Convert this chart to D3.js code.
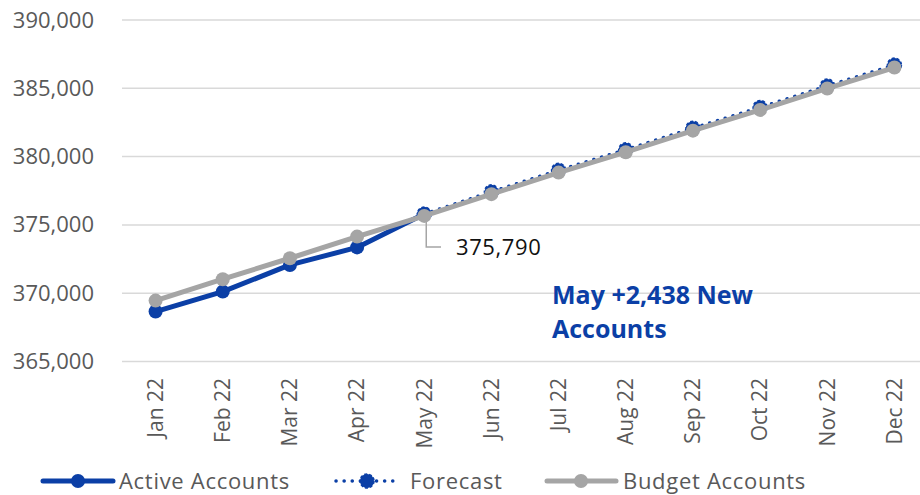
<!DOCTYPE html>
<html>
<head>
<meta charset="utf-8">
<script src="https://cdn.jsdelivr.net/npm/d3@7"></script>
<style>
  body { margin: 0; background: #fff; }
  svg { display: block; font-family: "Open Sans", sans-serif; }
</style>
</head>
<body>
<div id="chart"></div>
<script>
// data
const months = ["Jan 22", "Feb 22", "Mar 22", "Apr 22", "May 22", "Jun 22",
                "Jul 22", "Aug 22", "Sep 22", "Oct 22", "Nov 22", "Dec 22"];
const activeAccounts = [368655, 370117, 372069, 373352, 375790];
const forecastMonths = months.slice(4);
const forecast = [375790, 377420, 379000, 380500, 382080, 383600, 385170, 386700];
const budgetAccounts = [369459, 371023, 372559, 374144, 375660, 377250,
                        378830, 380320, 381900, 383420, 384990, 386520];
const yTicks = [365000, 370000, 375000, 380000, 385000, 390000];

const W = 920, H = 495;
const BLUE = "#0B3FA6", GRAY = "#A5A5A5";

const svg = d3.select("#chart").append("svg")
    .attr("width", W).attr("height", H);

const x = d3.scaleBand().domain(months).range([122, 928]);
const y = d3.scaleLinear().domain([365000, 390000]).range([361.5, 20]);
const cx = m => x(m) + x.bandwidth() / 2;

// gridlines
svg.append("g").selectAll("line").data(yTicks).join("line")
    .attr("x1", 122).attr("x2", W)
    .attr("y1", d => y(d)).attr("y2", d => y(d))
    .attr("stroke", "#D9D9D9").attr("stroke-width", 1.5);

// y axis
const yAxis = svg.append("g")
    .attr("transform", "translate(94,0)")
    .call(d3.axisLeft(y).tickValues(yTicks).tickSize(0).tickPadding(0)
        .tickFormat(d3.format(",")));
yAxis.select(".domain").remove();
yAxis.selectAll("text")
    .attr("font-family", "Open Sans").attr("font-size", 22)
    .attr("fill", "#595959");

// x axis
const xAxis = svg.append("g")
    .attr("transform", "translate(0,374)")
    .call(d3.axisBottom(x).tickSize(0).tickPadding(0));
xAxis.select(".domain").remove();
xAxis.selectAll("text")
    .attr("font-family", "Open Sans").attr("font-size", 21)
    .attr("fill", "#595959")
    .attr("transform", "rotate(-90)")
    .attr("text-anchor", "end")
    .attr("x", -4).attr("y", 0).attr("dy", "0.35em");

const line = d3.line().x(d => cx(d[0])).y(d => y(d[1]));

// active accounts
const act = months.slice(0, 5).map((m, i) => [m, activeAccounts[i]]);
svg.append("path").datum(act).attr("d", line)
    .attr("fill", "none").attr("stroke", BLUE).attr("stroke-width", 5)
    .attr("stroke-linejoin", "round");
svg.append("g").selectAll("circle").data(act).join("circle")
    .attr("cx", d => cx(d[0])).attr("cy", d => y(d[1])).attr("r", 7)
    .attr("fill", BLUE);

// forecast
const fc = forecastMonths.map((m, i) => [m, forecast[i]]);
svg.append("path").datum(fc).attr("d", line)
    .attr("fill", "none").attr("stroke", BLUE).attr("stroke-width", 3.5)
    .attr("stroke-dasharray", "0.1 8").attr("stroke-linecap", "round");
svg.append("g").selectAll("circle").data(fc).join("circle")
    .attr("cx", d => cx(d[0])).attr("cy", d => y(d[1])).attr("r", 7)
    .attr("fill", BLUE).attr("stroke", BLUE).attr("stroke-width", 1.5)
    .attr("stroke-dasharray", "3 2");

// budget accounts
const bud = months.map((m, i) => [m, budgetAccounts[i]]);
svg.append("path").datum(bud).attr("d", line)
    .attr("fill", "none").attr("stroke", GRAY).attr("stroke-width", 5)
    .attr("stroke-linejoin", "round");
svg.append("g").selectAll("circle").data(bud).join("circle")
    .attr("cx", d => cx(d[0])).attr("cy", d => y(d[1])).attr("r", 7)
    .attr("fill", GRAY);

// data label for May
const mx = cx("May 22"), my = y(activeAccounts[4]);
svg.append("path")
    .attr("d", `M${mx + 2},${my + 6}V247H441`)
    .attr("fill", "none").attr("stroke", GRAY).attr("stroke-width", 1.5);
svg.append("text").attr("x", 456).attr("y", 247).attr("dy", "0.35em")
    .attr("font-size", 22).attr("letter-spacing", 0.6).attr("fill", "#111")
    .text(d3.format(",")(activeAccounts[4]));

// callout
const callout = svg.append("text").attr("x", 552).attr("y", 304)
    .attr("font-size", 25).attr("font-weight", "bold").attr("fill", BLUE);
callout.append("tspan").attr("x", 552).text("May +2,438 New");
callout.append("tspan").attr("x", 552).attr("dy", 34).text("Accounts");

// legend
const leg = svg.append("g").attr("font-size", 22).attr("letter-spacing", 0.7)
    .attr("fill", "#595959");
const ly = 481;
leg.append("line").attr("x1", 43).attr("x2", 113).attr("y1", ly).attr("y2", ly)
    .attr("stroke", BLUE).attr("stroke-width", 5).attr("stroke-linecap", "round");
leg.append("circle").attr("cx", 78).attr("cy", ly).attr("r", 7).attr("fill", BLUE);
leg.append("text").attr("x", 119).attr("y", ly).attr("dy", "0.35em").text("Active Accounts");

leg.append("line").attr("x1", 336).attr("x2", 398).attr("y1", ly).attr("y2", ly)
    .attr("stroke", BLUE).attr("stroke-width", 3.5)
    .attr("stroke-dasharray", "0.1 8").attr("stroke-linecap", "round");
leg.append("circle").attr("cx", 367).attr("cy", ly).attr("r", 7).attr("fill", BLUE)
    .attr("stroke", BLUE).attr("stroke-width", 1.5).attr("stroke-dasharray", "3 2");
leg.append("text").attr("x", 410).attr("y", ly).attr("dy", "0.35em").text("Forecast");

leg.append("line").attr("x1", 547).attr("x2", 616).attr("y1", ly).attr("y2", ly)
    .attr("stroke", GRAY).attr("stroke-width", 5).attr("stroke-linecap", "round");
leg.append("circle").attr("cx", 581).attr("cy", ly).attr("r", 7).attr("fill", GRAY);
leg.append("text").attr("x", 623).attr("y", ly).attr("dy", "0.35em").text("Budget Accounts");
</script>
</body>
</html>
